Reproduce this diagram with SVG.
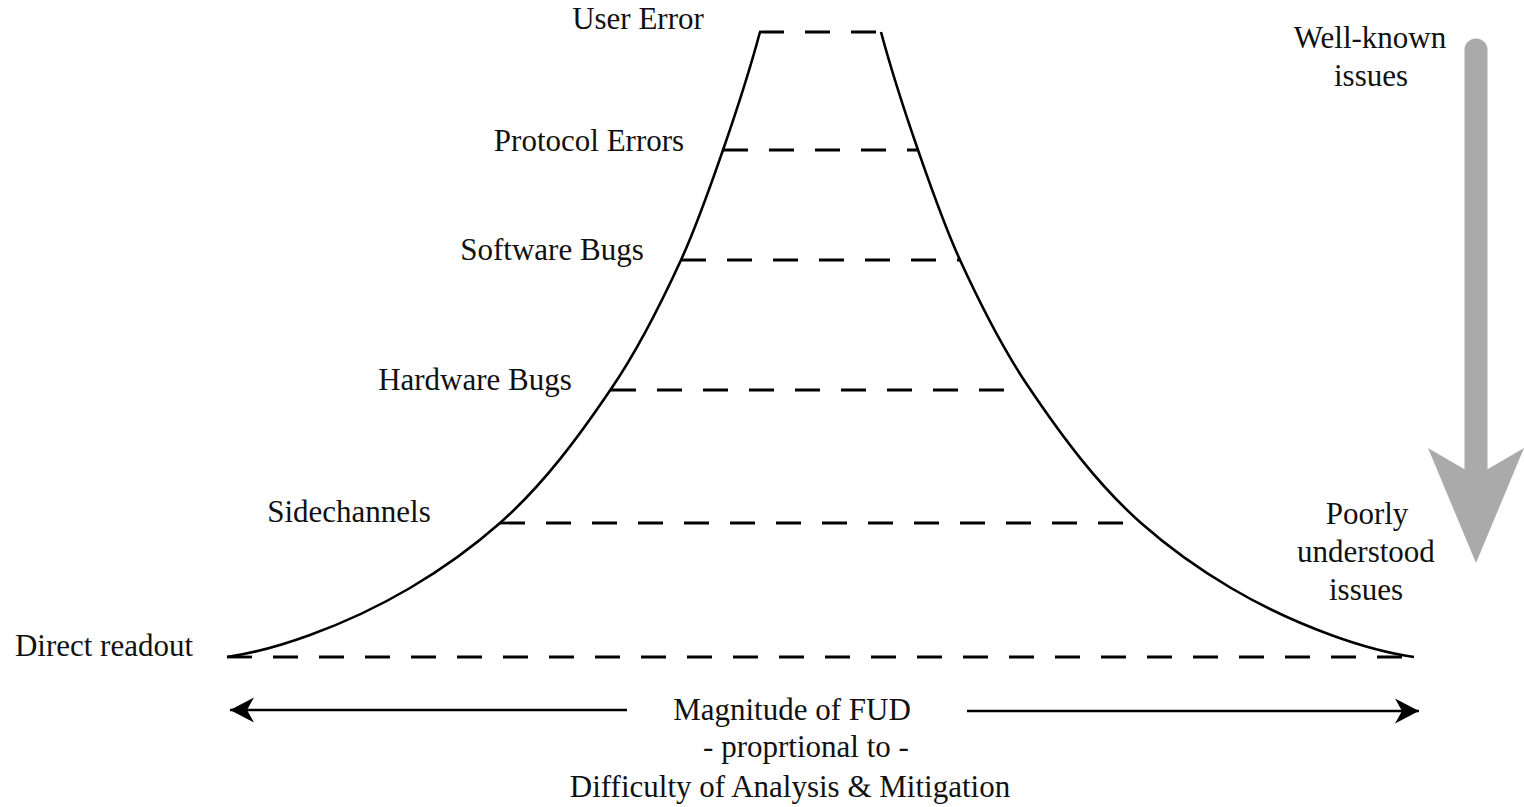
<svg xmlns="http://www.w3.org/2000/svg" width="1524" height="807" viewBox="0 0 1524 807">
  <style>
    .lbl { font-family: "Liberation Serif", "DejaVu Serif", serif; font-size: 31px; fill: #111; text-anchor: middle; }
    .edge { fill: none; stroke: #000; stroke-width: 2.6; stroke-linejoin: round; }
    .level { fill: none; stroke: #000; stroke-width: 2.8; stroke-dasharray: 25 21; }
    .axis { fill: none; stroke: #000; stroke-width: 2.7; }
  </style>
  <defs>
    <marker id="barb" markerUnits="userSpaceOnUse" viewBox="-25 -13 26 26" refX="0" refY="0" markerWidth="26" markerHeight="26" orient="auto">
      <path d="M0,0 L-24,-12.5 L-17,0 L-24,12.5 Z" fill="#000"/>
    </marker>
    <!-- left flank of the bell; the right flank is its mirror image -->
    <path id="flank" class="edge" d="M760,32 C749.3,71.8 736.5,111.1 723,150 C710.1,187 697.3,224.4 681,260 C660.5,304.7 638.4,349.1 611,389 C578.5,437.1 543.4,484.5 500,523 C472.3,547.5 441.9,569.2 410,588 C378.3,606.7 344.6,622.4 310,635 C283.1,644.8 255.3,653 227,657"/>
  </defs>

  <rect width="1524" height="807" fill="#fff"/>

  <!-- bell-shaped outline -->
  <g id="outline">
    <use href="#flank"/>
    <use href="#flank" transform="translate(1641,0) scale(-1,1)"/>
  </g>

  <!-- levels -->
  <g id="user-error">
    <line class="level" x1="759" y1="32" x2="882" y2="32"/>
    <text class="lbl" x="638" y="29">User Error</text>
  </g>
  <g id="protocol-errors">
    <line class="level" x1="723" y1="150" x2="917" y2="150"/>
    <text class="lbl" x="589" y="151">Protocol Errors</text>
  </g>
  <g id="software-bugs">
    <line class="level" x1="681" y1="260" x2="961" y2="260"/>
    <text class="lbl" x="552" y="260">Software Bugs</text>
  </g>
  <g id="hardware-bugs">
    <line class="level" x1="611" y1="390" x2="1012" y2="390"/>
    <text class="lbl" x="475" y="390">Hardware Bugs</text>
  </g>
  <g id="sidechannels">
    <line class="level" x1="500" y1="523" x2="1130" y2="523"/>
    <text class="lbl" x="349" y="522">Sidechannels</text>
  </g>
  <g id="direct-readout">
    <line class="level" x1="227" y1="657" x2="1418" y2="657"/>
    <text class="lbl" x="104" y="656">Direct readout</text>
  </g>

  <!-- knowledge scale -->
  <g id="well-known">
    <text class="lbl" x="1370" y="48">Well-known</text>
    <text class="lbl" x="1371" y="86">issues</text>
  </g>
  <g id="poorly-understood">
    <text class="lbl" x="1367" y="524">Poorly</text>
    <text class="lbl" x="1366" y="562">understood</text>
    <text class="lbl" x="1366" y="600">issues</text>
  </g>

  <!-- connectors -->
  <g id="connectors">
    <line x1="1476" y1="50" x2="1476" y2="472" stroke="#aaaaaa" stroke-width="23" stroke-linecap="round"/>
    <polygon points="1428,448 1476,476 1524,448 1476,563" fill="#aaaaaa"/>
    <line class="axis" x1="627" y1="710" x2="230" y2="710" marker-end="url(#barb)"/>
    <line class="axis" x1="967" y1="711" x2="1419" y2="711" marker-end="url(#barb)"/>
  </g>

  <!-- axis caption -->
  <g id="caption">
    <text class="lbl" x="792" y="720">Magnitude of FUD</text>
    <text class="lbl" x="806" y="757">- proprtional to -</text>
    <text class="lbl" x="790" y="797">Difficulty of Analysis &amp; Mitigation</text>
  </g>
</svg>
